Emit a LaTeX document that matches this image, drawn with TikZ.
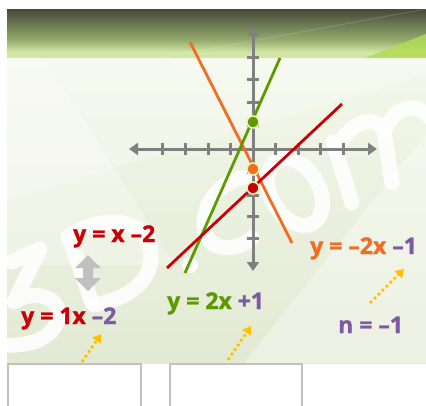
\documentclass[tikz,border=0pt]{standalone}
\usepackage{fontspec}
\setmainfont{Open Sans}[BoldFeatures={FakeBold=1.2}]
\usetikzlibrary{arrows.meta}
\definecolor{axisgray}{HTML}{808080}
\definecolor{lred}{HTML}{C80008}
\definecolor{lorange}{HTML}{F26C22}
\definecolor{lgreen}{HTML}{5C9A00}
\definecolor{lpurple}{HTML}{7E5AA2}
\definecolor{dotring}{HTML}{E6F4B4}
\definecolor{ayellow}{HTML}{FFC000}
\definecolor{dgray}{HTML}{C0C0C0}
\definecolor{bandtop}{HTML}{47483A}
\definecolor{bandmid}{HTML}{94AB6C}
\definecolor{bandlow}{HTML}{D2E6A6}
\definecolor{paneltop}{HTML}{F3F7EA}
\definecolor{panelbot}{HTML}{E2EAD3}
\definecolor{brightgreen}{HTML}{B2DC55}
\tikzset{
  axis/.style={draw=axisgray, line width=3pt, {Triangle[length=9pt,width=12pt]}-{Triangle[length=9pt,width=12pt]}},
  tick/.style={draw=axisgray, line width=3pt},
  graphline/.style={line width=2.8pt},
  ptdot/.style={circle, minimum size=12pt, inner sep=0pt, draw=dotring, line width=1.6pt},
  eqtext/.style={inner sep=0pt, anchor=base west, font=\bfseries\fontsize{23}{27}\selectfont},
  hintarrow/.style={draw=ayellow, line width=2.8pt, dash pattern=on 2.8pt off 2.8pt, -{Triangle[length=8pt,width=10pt,fill=ayellow]}},
  wmark/.style={draw=white, line width=15pt, line cap=round, line join=round, opacity=0.88},
  answerbox/.style={draw=dgray, line width=2.5pt, fill=white}
}
\begin{document}
\begin{tikzpicture}[x=1pt,y=-1pt]
\useasboundingbox (0,0) rectangle (426,405);
\fill[white] (0,0) rectangle (426,405);
% panel background
\shade[top color=paneltop, bottom color=panelbot] (7,58) rectangle (426,363);
\fill[white, opacity=0.35] (244,363) -- (405,160) -- (426,135) -- (426,363) -- cycle;
\fill[white, opacity=0.3] (7,58) -- (45,58) -- (175,265) -- (7,265) -- cycle;
\fill[white, opacity=0.25] (7,58) -- (426,58) -- (426,75) -- (7,200) -- cycle;
% top band
\shade[top color=bandtop, bottom color=bandmid] (7,9) rectangle (426,40);
\shade[top color=bandmid, bottom color=bandlow] (7,40) rectangle (426,52);
\fill[bandlow] (7,52) rectangle (426,58);
\fill[brightgreen, opacity=0.85] (365,58) -- (426,34) -- (426,58) -- cycle;
\draw[white, opacity=0.15, line width=1pt] (160,58) -- (426,9);
% watermark strokes
\draw[wmark] (12,262) -- (40,249) -- (14,302) .. controls (35,288) and (62,298) .. (58,318) .. controls (54,338) and (30,346) .. (8,345);
\draw[wmark] (70,240) -- (92,303);
\draw[wmark] (68,237) .. controls (100,214) and (150,216) .. (151,255) .. controls (152,285) and (122,300) .. (94,305);
\fill[white, opacity=0.88] (190,265) circle (8);
\draw[wmark] (258,178) .. controls (232,172) and (205,195) .. (204,222) .. controls (203,250) and (232,255) .. (252,238);
\draw[wmark] (295,192) ellipse [x radius=24, y radius=36, rotate=30];
\draw[wmark] (333,142) -- (352,203);
\draw[wmark] (337,150) .. controls (348,122) and (375,112) .. (384,132) -- (392,183);
\draw[wmark] (386,128) .. controls (395,108) and (415,100) .. (430,118);
% axes
\coordinate (xl) at (129,149); \coordinate (xr) at (377,149);
\coordinate (yt) at (253,27);  \coordinate (yb) at (253,271);
\draw[axis] (xl) -- (xr);
\draw[axis] (yb) -- (yt);
\foreach \t in {162,185,208,230,275,298,320,343}
  \draw[tick] (\t,143) -- (\t,155);
\foreach \t in {57,79,102,125,172,195,216,238}
  \draw[tick] (247,\t) -- (259,\t);
% graph lines
\coordinate (oa) at (190,42);  \coordinate (ob) at (292,243);
\coordinate (ga) at (280,58);  \coordinate (gb) at (185,273);
\coordinate (ra) at (342,104); \coordinate (rb) at (167,268);
\draw[graphline, lorange] (oa) -- (ob);
\draw[graphline, lgreen] (ga) -- (gb);
\draw[graphline, lred] (ra) -- (rb);
% intercept dots
\node[ptdot, fill=lgreen] (dg) at (253,122) {};
\node[ptdot, fill=lorange] (do) at (253,169) {};
\node[ptdot, fill=lred] (dr) at (253,188) {};
% equations
\node[eqtext, text=lred] (e1) at (73,242) {y = x –2};
\node[eqtext] (e2) at (21,324) {\color{lred}y = 1x \color{lpurple}–2};
\node[eqtext] (e3) at (167,309) {\color{lgreen}y = 2x \color{lpurple}+1};
\node[eqtext] (e4) at (310,254) {\color{lorange}y = –2x \color{lpurple}–1};
\node[eqtext, text=lpurple] (e5) at (338,333) {n = –1};
% gray double arrow
\fill[dgray] (88,255) -- (101,268) -- (93,268) -- (93,278) -- (101,278) -- (88,291) -- (75,278) -- (83,278) -- (83,268) -- (75,268) -- cycle;
% yellow hint arrows
\coordinate (h1a) at (82,362);  \coordinate (h1b) at (101,334);
\coordinate (h2a) at (228,360); \coordinate (h2b) at (251,326);
\coordinate (h3a) at (370,303); \coordinate (h3b) at (404,269);
\draw[hintarrow] (h1a) -- (h1b);
\draw[hintarrow] (h2a) -- (h2b);
\draw[hintarrow] (h3a) -- (h3b);
% answer boxes
\draw[answerbox] (8,364) rectangle (141,410);
\draw[answerbox] (170,364) rectangle (302,410);
\end{tikzpicture}
\end{document}
